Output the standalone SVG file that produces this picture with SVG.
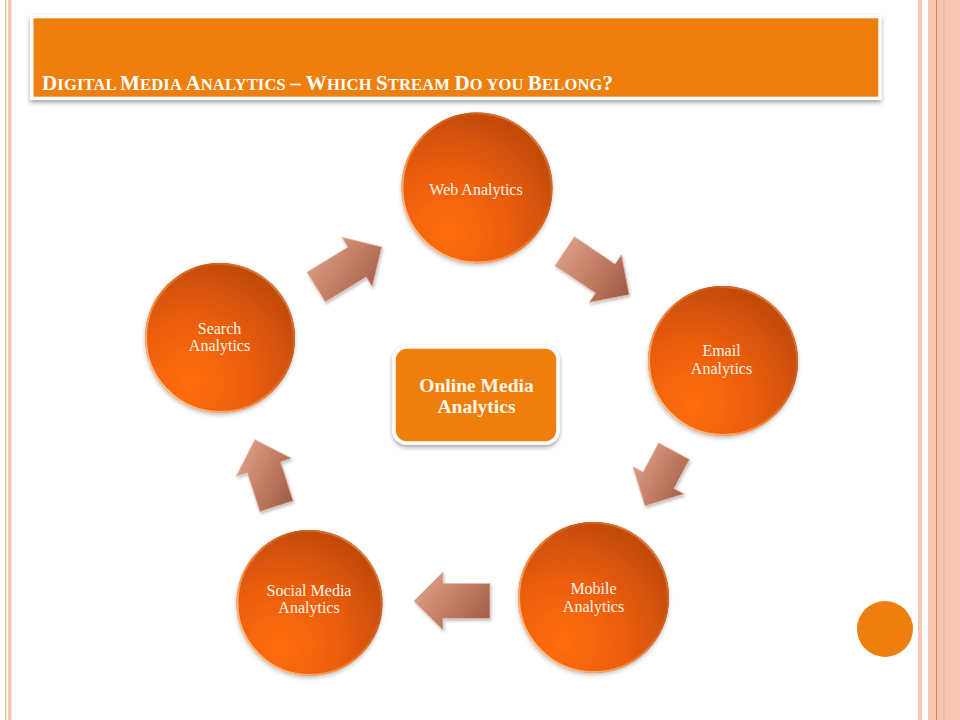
<svg xmlns="http://www.w3.org/2000/svg" width="960" height="720" viewBox="0 0 960 720">
<defs>
<style>
.ctext{font-family:"Liberation Serif","Times New Roman",serif;font-size:16px;fill:#fff4e8;text-anchor:middle}
.btext{font-family:"Liberation Serif","Times New Roman",serif;font-size:19.5px;font-weight:bold;fill:#fff6ea;text-anchor:middle}
.title{font-family:"Liberation Serif","Times New Roman",serif;font-weight:bold;fill:#ffffff}
.big{font-size:21px}
.sm{font-size:16.5px}
.stripe{fill:#f5c6b2}
.arrow{fill:url(#arrGrad);stroke:#e7b8a4;stroke-width:0.8;stroke-linejoin:miter;filter:url(#ashadow)}
.ball{fill:url(#ballGrad);filter:url(#cshadow)}
.rim{fill:none;stroke:url(#rimGrad);stroke-width:2}
</style>
<radialGradient id="ballGrad" cx="0.3" cy="0.78" r="0.95" fx="0.3" fy="0.8">
<stop offset="0" stop-color="#ff6e0c"/>
<stop offset="0.45" stop-color="#ea5d08"/>
<stop offset="1" stop-color="#b44406"/>
</radialGradient>
<linearGradient id="rimGrad" x1="0" y1="1" x2="1" y2="0">
<stop offset="0" stop-color="#ffe2b8"/>
<stop offset="0.4" stop-color="#f48a40"/>
<stop offset="0.7" stop-color="#c85a18"/>
<stop offset="1" stop-color="#e99a68"/>
</linearGradient>
<linearGradient id="arrGrad" x1="0" y1="0.2" x2="1" y2="0.8">
<stop offset="0" stop-color="#e0a28a"/>
<stop offset="0.5" stop-color="#c47e66"/>
<stop offset="1" stop-color="#a15d47"/>
</linearGradient>
<filter id="cshadow" x="-20%" y="-20%" width="140%" height="140%">
<feDropShadow dx="0" dy="2" stdDeviation="2" flood-color="#000" flood-opacity="0.25"/>
</filter>
<filter id="ashadow" x="-20%" y="-20%" width="140%" height="140%">
<feDropShadow dx="1" dy="2" stdDeviation="1.5" flood-color="#000" flood-opacity="0.25"/>
</filter>
<filter id="bshadow" x="-10%" y="-20%" width="120%" height="150%">
<feDropShadow dx="0" dy="2.5" stdDeviation="2" flood-color="#000" flood-opacity="0.35"/>
</filter>
</defs>

<rect width="960" height="720" fill="#ffffff"/>

<g id="page-borders">
<rect class="stripe" x="5" y="0" width="1.5" height="720"/>
<rect class="stripe" x="8" y="0" width="3.5" height="720"/>
<rect class="stripe" x="918" y="0" width="4" height="720"/>
<rect class="stripe" x="928" y="0" width="32" height="720"/>
<rect x="936" y="0" width="1" height="720" fill="#e47a48"/>
<rect x="943" y="0" width="2" height="720" fill="#f0bba6"/>
</g>

<g id="title">
<rect x="30" y="15" width="851.5" height="85" fill="#ffffff" filter="url(#bshadow)"/>
<rect x="33.5" y="18.3" width="844.8" height="78.4" fill="#ef7f0c"/>
<text class="title" x="42" y="89.5" textLength="571" lengthAdjust="spacing"><tspan class="big">D</tspan><tspan class="sm">IGITAL </tspan><tspan class="big">M</tspan><tspan class="sm">EDIA </tspan><tspan class="big">A</tspan><tspan class="sm">NALYTICS </tspan><tspan class="big">– W</tspan><tspan class="sm">HICH </tspan><tspan class="big">S</tspan><tspan class="sm">TREAM </tspan><tspan class="big">D</tspan><tspan class="sm">O YOU </tspan><tspan class="big">B</tspan><tspan class="sm">ELONG</tspan><tspan class="big">?</tspan></text>
</g>

<g id="connectors">
<polygon class="arrow" points="307.0,272.2 348.0,247.1 342.0,237.3 381.8,246.9 372.3,286.8 366.2,277.0 325.3,302.0"/>
<polygon class="arrow" points="574.5,236.7 615.1,264.1 621.5,254.6 629.3,294.8 589.1,302.6 595.5,293.1 554.9,265.7"/>
<polygon class="arrow" points="689.5,459.4 674.0,488.5 684.2,493.9 645.0,505.9 633.0,466.7 643.1,472.1 658.6,442.9"/>
<polygon class="arrow" points="490,583.5 443,583.5 443,572 414,601 443,630 443,618.5 490,618.5"/>
<polygon class="arrow" points="259.9,511.7 247.3,472.7 236.3,476.3 254.9,439.7 291.5,458.3 280.6,461.9 293.2,500.9"/>
</g>

<g id="center">
<rect x="394" y="347" width="164" height="96" rx="13" fill="#ef7f0f" stroke="#ffffff" stroke-width="3.5" filter="url(#bshadow)"/>
<text class="btext" x="476.5" y="391.5">Online Media</text>
<text class="btext" x="476.5" y="413">Analytics</text>
</g>

<g id="web">
<circle class="ball" cx="477" cy="188" r="75.5"/>
<circle class="rim" cx="477" cy="188" r="74.5"/>
<text class="ctext" x="476" y="194.5">Web Analytics</text>
</g>

<g id="email">
<circle class="ball" cx="723" cy="361" r="75"/>
<circle class="rim" cx="723" cy="361" r="74"/>
<text class="ctext" x="721.5" y="356">Email</text>
<text class="ctext" x="721.5" y="373.5">Analytics</text>
</g>

<g id="mobile">
<circle class="ball" cx="593.5" cy="597.5" r="75.5"/>
<circle class="rim" cx="593.5" cy="597.5" r="74.5"/>
<text class="ctext" x="593.5" y="594">Mobile</text>
<text class="ctext" x="593.5" y="611.5">Analytics</text>
</g>

<g id="social">
<circle class="ball" cx="309.5" cy="603" r="73"/>
<circle class="rim" cx="309.5" cy="603" r="72"/>
<text class="ctext" x="309" y="595.5">Social Media</text>
<text class="ctext" x="309" y="612.5">Analytics</text>
</g>

<g id="search">
<circle class="ball" cx="220" cy="338" r="75"/>
<circle class="rim" cx="220" cy="338" r="74"/>
<text class="ctext" x="219.5" y="333.5">Search</text>
<text class="ctext" x="219.5" y="351">Analytics</text>
</g>

<g id="corner-dot">
<circle cx="885" cy="629" r="28" fill="#ef7f0c"/>
</g>
</svg>
